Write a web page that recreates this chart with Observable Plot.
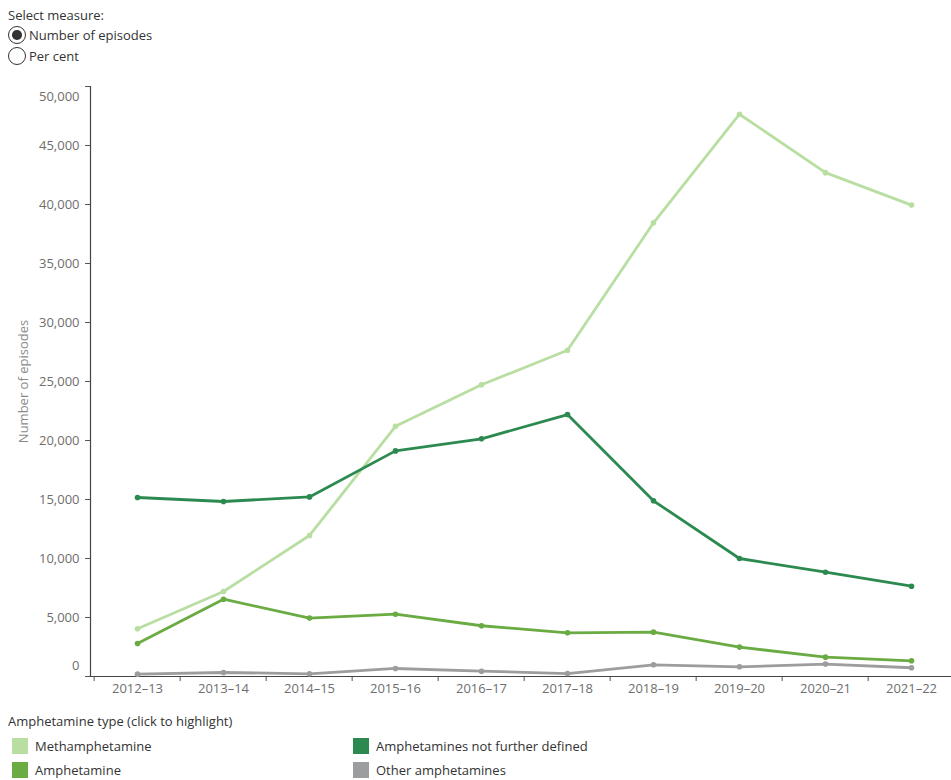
<!DOCTYPE html>
<html>
<head>
<meta charset="utf-8">
<script src="https://cdn.jsdelivr.net/npm/d3@7"></script>
<script src="https://cdn.jsdelivr.net/npm/@observablehq/plot@0.6"></script>
<style>
  html, body { margin: 0; padding: 0; background: #fff; }
  body { width: 951px; font-family: "Open Sans", sans-serif; color: #333; }
  #header { height: 70px; position: relative; font-size: 13px; }
  #header .title { position: absolute; left: 8px; top: 6px; }
  .radio { position: absolute; left: 8px; display: flex; align-items: center; }
  .radio .circ { width: 18px; height: 18px; border: 1.3px solid #333; border-radius: 50%; box-sizing: border-box; position: relative; margin-right: 3px; }
  .radio .circ.on::after { content: ""; position: absolute; left: 3px; top: 3px; width: 9.5px; height: 9.5px; border-radius: 50%; background: #333; }
  #chart { height: 630px; }
  #legend { position: relative; height: 80px; font-size: 13px; }
  #legend .ltitle { position: absolute; left: 8px; top: 12px; }
  .item { position: absolute; display: flex; align-items: center; }
  .item .sw { width: 16px; height: 16px; margin-right: 7px; }
</style>
</head>
<body>
<div id="header">
  <div class="title">Select measure:</div>
  <div class="radio" style="top:26px"><span class="circ on"></span><span>Number of episodes</span></div>
  <div class="radio" style="top:47px"><span class="circ"></span><span>Per cent</span></div>
</div>
<div id="chart"></div>
<div id="legend"></div>
<script>
const years = ["2012–13","2013–14","2014–15","2015–16","2016–17","2017–18","2018–19","2019–20","2020–21","2021–22"];
const methamphetamine = [4050, 7200, 11950, 21200, 24720, 27650, 38450, 47650, 42700, 39950];
const amphetamine = [2800, 6550, 4950, 5280, 4300, 3700, 3760, 2490, 1640, 1330];
const notFurtherDefined = [15170, 14830, 15220, 19120, 20140, 22200, 14890, 10000, 8840, 7650];
const otherAmphetamines = [200, 340, 230, 680, 450, 250, 990, 820, 1050, 740];
const seriesNames = ["Methamphetamine", "Amphetamine", "Amphetamines not further defined", "Other amphetamines"];
const seriesColors = ["#b9dea2", "#6aab43", "#2c8a51", "#9c9d9f"];
const yTicks = [0, 5000, 10000, 15000, 20000, 25000, 30000, 35000, 40000, 45000, 50000];

const seriesValues = [methamphetamine, amphetamine, notFurtherDefined, otherAmphetamines];
// draw order: meth, amph, other, ANFD on top
const drawOrder = [0, 1, 3, 2];
const data = drawOrder.flatMap(i => years.map((year, j) => ({year, value: seriesValues[i][j], series: seriesNames[i]})));

const xRange = [90, 957];
const bw = (xRange[1] - xRange[0]) / years.length;
const fmt = d3.format(",");

const chart = Plot.plot({
  width: 951,
  height: 630,
  marginTop: 16,
  marginBottom: 24,
  marginLeft: 90,
  marginRight: 0,
  style: {fontFamily: "'Open Sans', sans-serif", fontSize: "13px", background: "#fff", overflow: "visible"},
  x: {type: "band", domain: years, range: xRange, padding: 0},
  y: {domain: [0, 50000]},
  color: {domain: seriesNames, range: seriesColors},
  marks: [
    Plot.axisY({ticks: yTicks, tickSize: 5, text: null, stroke: "#555", label: "Number of episodes", labelArrow: false, labelAnchor: "center", labelOffset: 72, fill: "#8a8a8a"}),
    Plot.axisY({ticks: yTicks.slice(1, -1), tickSize: 0, tickPadding: 11, tickFormat: fmt, fill: "#6e6e6e", label: null}),
    Plot.axisY({ticks: [50000], tickSize: 0, tickPadding: 11, tickFormat: fmt, fill: "#6e6e6e", dy: 10, label: null}),
    Plot.axisY({ticks: [0], tickSize: 0, tickPadding: 11, tickFormat: fmt, fill: "#6e6e6e", dy: -11, label: null}),
    Plot.axisX({tickSize: 5, text: null, dx: -bw / 2, stroke: "#555", label: null}),
    Plot.axisX({tickSize: 0, tickPadding: 7, fill: "#6e6e6e", label: null}),
    Plot.ruleY([0], {stroke: "#444", strokeWidth: 1.2}),
    Plot.frame({anchor: "left", stroke: "#444", strokeWidth: 1.2}),
    Plot.line(data, {x: "year", y: "value", z: "series", stroke: "series", strokeWidth: 2.8}),
    Plot.dot(data, {x: "year", y: "value", fill: "series", r: 2.8})
  ]
});
document.getElementById("chart").appendChild(chart);

const legend = document.getElementById("legend");
const lt = document.createElement("div");
lt.className = "ltitle";
lt.textContent = "Amphetamine type (click to highlight)";
legend.appendChild(lt);
const legendPos = [[12, 37], [12, 61], [353, 37], [353, 61]];
seriesNames.forEach((name, i) => {
  const it = document.createElement("div");
  it.className = "item";
  it.style.left = legendPos[i][0] + "px";
  it.style.top = legendPos[i][1] + "px";
  it.innerHTML = `<span class="sw" style="background:${seriesColors[i]}"></span><span>${name}</span>`;
  legend.appendChild(it);
});
</script>
</body>
</html>
